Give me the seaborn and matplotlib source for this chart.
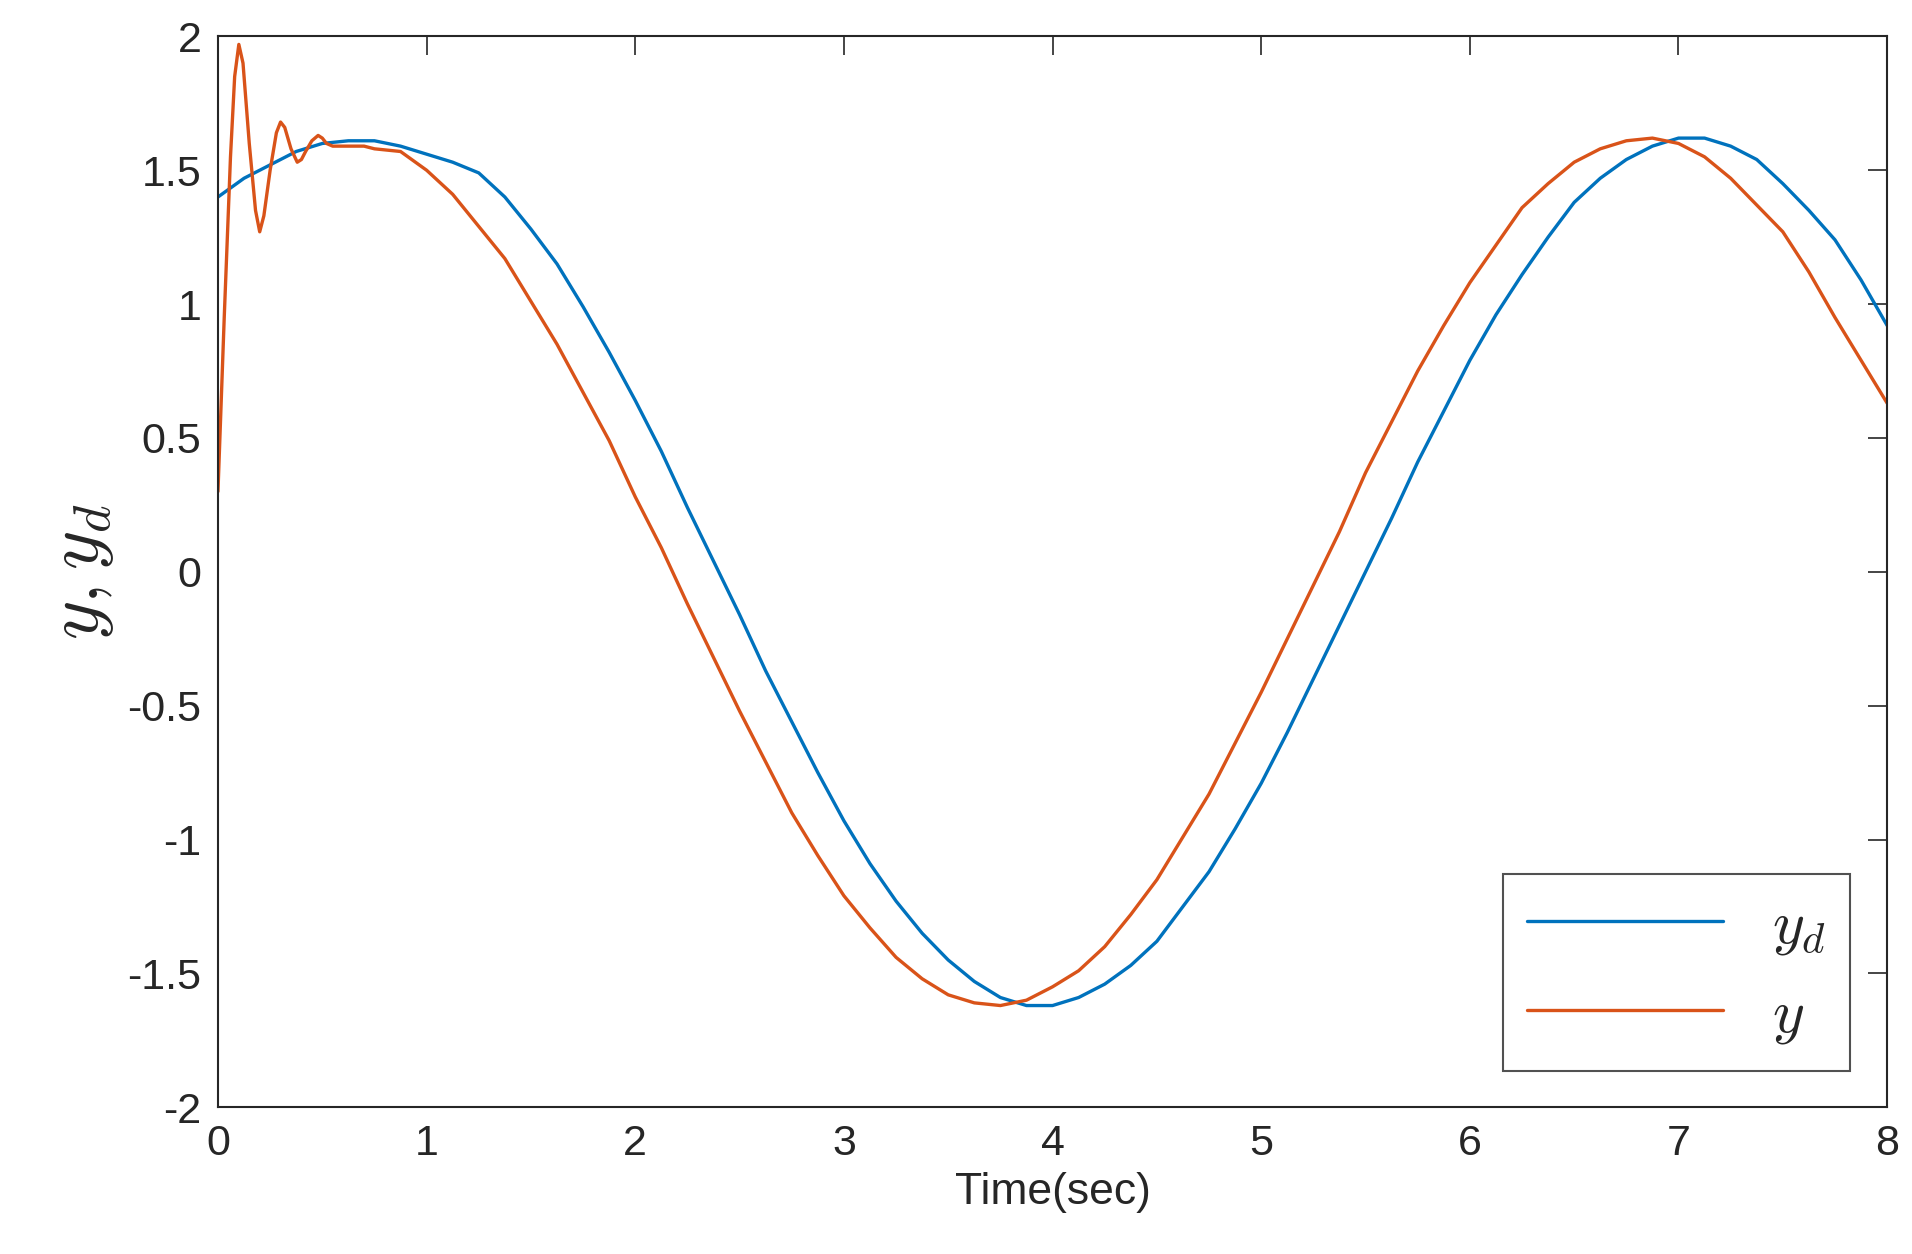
import numpy as np
import pandas as pd
import matplotlib
matplotlib.use("Agg")
import matplotlib.pyplot as plt
import seaborn as sns

# desired trajectory, read every 0.125 s
t_grid = [i * 0.125 for i in range(65)]
yd_vals = [1.40, 1.47, 1.52, 1.57, 1.60, 1.61, 1.61, 1.59, 1.56, 1.53, 1.49, 1.40,
           1.28, 1.15, 0.99, 0.82, 0.64, 0.45, 0.24, 0.04, -0.16, -0.37, -0.56,
           -0.75, -0.93, -1.09, -1.23, -1.35, -1.45, -1.53, -1.59, -1.62, -1.62,
           -1.59, -1.54, -1.47, -1.38, -1.25, -1.12, -0.96, -0.79, -0.60, -0.40,
           -0.20, 0.00, 0.20, 0.41, 0.60, 0.79, 0.96, 1.11, 1.25, 1.38, 1.47, 1.54,
           1.59, 1.62, 1.62, 1.59, 1.54, 1.45, 1.35, 1.24, 1.09, 0.92, 0.75, 0.60][:65]

# actual output: oscillating start, then tracking with a small lag
t_out = [0, 0.03, 0.06, 0.08, 0.1, 0.12, 0.15, 0.18, 0.2, 0.22, 0.25, 0.28, 0.3,
         0.32, 0.35, 0.38, 0.4, 0.42, 0.45, 0.48, 0.5, 0.52, 0.55, 0.6, 0.65, 0.7,
         0.75] + [0.875 + i * 0.125 for i in range(58)]
y_vals = [0.30, 0.95, 1.55, 1.85, 1.97, 1.90, 1.60, 1.35, 1.27, 1.33, 1.50, 1.64,
          1.68, 1.66, 1.58, 1.53, 1.54, 1.57, 1.61, 1.63, 1.62, 1.60, 1.59, 1.59,
          1.59, 1.59, 1.58,
          1.57, 1.50, 1.41, 1.29, 1.17, 1.01, 0.85, 0.67, 0.49, 0.28, 0.09, -0.12,
          -0.32, -0.52, -0.71, -0.90, -1.06, -1.21, -1.33, -1.44, -1.52, -1.58,
          -1.61, -1.62, -1.60, -1.55, -1.49, -1.40, -1.28, -1.15, -0.99, -0.83,
          -0.64, -0.45, -0.25, -0.05, 0.15, 0.37, 0.56, 0.75, 0.92, 1.08, 1.22,
          1.36, 1.45, 1.53, 1.58, 1.61, 1.62, 1.60, 1.55, 1.47, 1.37, 1.27, 1.12,
          0.95, 0.79, 0.63]

df_d = pd.DataFrame({"t": t_grid, "v": yd_vals})
df_y = pd.DataFrame({"t": t_out, "v": y_vals})

sns.set_style("white")
plt.rcParams['font.family'] = ['Liberation Sans', 'DejaVu Sans']
plt.rcParams['mathtext.fontset'] = 'cm'

fig = plt.figure(figsize=(19.12, 12.54), dpi=100)
ax = fig.add_axes([0.114, 0.117, 0.873, 0.854])
sns.lineplot(data=df_d, x="t", y="v", ax=ax, color="#0072BD", linewidth=2.4,
             label=r"$y_d$")
sns.lineplot(data=df_y, x="t", y="v", ax=ax, color="#D95319", linewidth=2.4,
             label=r"$y$")

ax.set_xlim(0, 8)
ax.set_ylim(-2, 2)
ax.set_xticks(range(0, 9))
ax.set_yticks([-2, -1.5, -1, -0.5, 0, 0.5, 1, 1.5, 2])
ax.set_yticklabels(["-2", "-1.5", "-1", "-0.5", "0", "0.5", "1", "1.5", "2"])
ax.tick_params(direction="in", length=14, width=1.2, labelsize=31, pad=12,
               top=True, right=True, colors="#262626")
for s in ax.spines.values():
    s.set_linewidth(1.5)
    s.set_color("#262626")
ax.set_xlabel("Time(sec)", fontsize=32, color="#262626", labelpad=6)
ax.set_ylabel(r"$y, y_d$", fontsize=54, labelpad=8)

leg = ax.legend(loc="lower right", fontsize=44, frameon=True, fancybox=False,
                edgecolor="#262626", handlelength=3.2, borderaxespad=0.6)
leg.get_frame().set_linewidth(1.5)

fig.savefig("out.png", dpi=100, facecolor="white")
